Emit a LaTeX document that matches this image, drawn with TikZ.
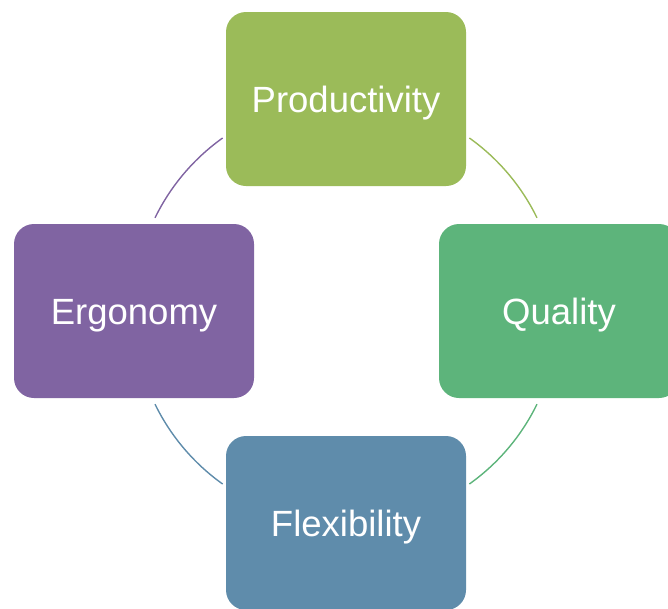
\documentclass[tikz,border=0pt]{standalone}
\usepackage{fontspec}
\setmainfont{Liberation Sans}
\definecolor{cprod}{HTML}{9BBB59}
\definecolor{cqual}{HTML}{5DB47B}
\definecolor{cflex}{HTML}{5F8CAB}
\definecolor{cergo}{HTML}{8064A2}
\newcommand{\boxtxt}[1]{\raisebox{-13pt}[0pt][0pt]{#1}}
\begin{document}
\begin{tikzpicture}[x=1pt,y=-1pt,
  box/.style={rounded corners=20pt,minimum width=240pt,minimum height=174pt,inner sep=0pt,text=white,font=\fontsize{36.5}{40}\selectfont},
  arc/.style={line width=1.4pt}]
\useasboundingbox (0,0) rectangle (668,608);
\clip (0,0) rectangle (668,608);
\coordinate (c) at (346,311);
\node[box,fill=cprod] (prod) at (346,99) {\boxtxt{Productivity}};
\node[box,fill=cqual] (qual) at (559,311) {\boxtxt{Quality}};
\node[box,fill=cflex] (flex) at (346,523) {\boxtxt{Flexibility}};
\node[box,fill=cergo] (ergo) at (134,311) {\boxtxt{Ergonomy}};
\draw[arc,cprod] ([shift={(-54.5:212.5)}]c) arc[start angle=-54.5,end angle=-26,radius=212.5];
\draw[arc,cqual] ([shift={(26:212.5)}]c) arc[start angle=26,end angle=54.5,radius=212.5];
\draw[arc,cflex] ([shift={(125.5:212.5)}]c) arc[start angle=125.5,end angle=154,radius=212.5];
\draw[arc,cergo] ([shift={(-154:212.5)}]c) arc[start angle=-154,end angle=-125.5,radius=212.5];
\end{tikzpicture}
\end{document}
